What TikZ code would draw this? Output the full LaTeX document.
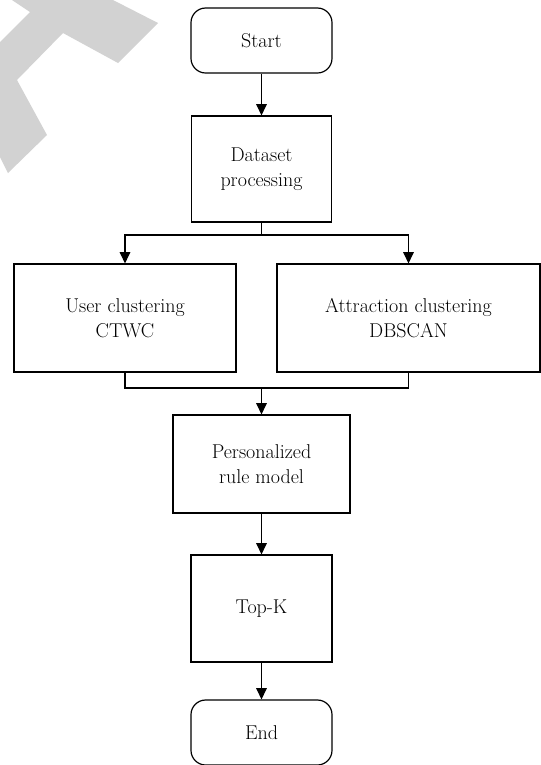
\documentclass[tikz,border=0pt]{standalone}
\usetikzlibrary{arrows.meta}
\begin{document}
\begin{tikzpicture}[x=0.75pt,y=-0.75pt,
  every node/.style={font=\fontsize{15}{18.75}\selectfont, align=center, inner sep=0pt},
  box/.style={draw, line width=0.9pt},
  term/.style={box, rounded corners=11pt},
  arr/.style={line width=0.9pt, -{Triangle[width=8pt,length=8.5pt]}},
  ln/.style={line width=0.9pt}]
\useasboundingbox (0,0) rectangle (541,765);
% watermark
\fill[gray!35] (12,0) -- (30,12) -- (0,42) -- (0,157) -- (8,173) -- (47,135) -- (17,80) -- (63,33) -- (118,63) -- (158,23) -- (113,0) -- cycle;
% nodes
\node[term, minimum width=105.75pt, minimum height=48.75pt] (start) at (261.5,40.5) {Start};
\node[box, minimum width=105pt, minimum height=79.5pt] (ds) at (261.5,169) {Dataset\\processing};
\node[box, minimum width=166.5pt, minimum height=81pt] (user) at (125,318) {User clustering\\CTWC};
\node[box, minimum width=197.25pt, minimum height=81pt] (att) at (408.5,318) {Attraction clustering\\DBSCAN};
\node[box, minimum width=132.75pt, minimum height=73.5pt] (pers) at (261.5,464) {Personalized\\rule model};
\node[box, minimum width=105.75pt, minimum height=80.25pt] (topk) at (261.5,608.5) {Top-K};
\node[term, minimum width=105.75pt, minimum height=48.75pt] (end) at (261.5,732.5) {End};
% connectors
\coordinate (j1) at (ds.south |- 0,235);
\coordinate (j2) at (pers.north |- 0,388);
\draw[arr] (start) -- (ds);
\draw[ln] (ds.south) -- (j1);
\draw[arr] (j1) -| (user.north);
\draw[arr] (j1) -| (att.north);
\draw[ln] (user.south) |- (j2);
\draw[ln] (att.south) |- (j2);
\draw[arr] (j2) -- (pers.north);
\draw[arr] (pers) -- (topk);
\draw[arr] (topk) -- (end);
\end{tikzpicture}
\end{document}
